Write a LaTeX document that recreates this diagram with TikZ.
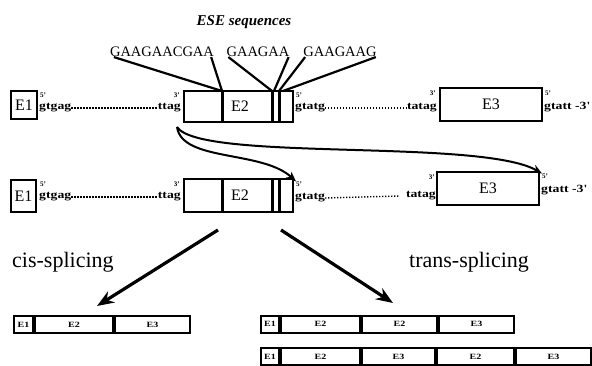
\documentclass[tikz,border=0pt]{standalone}
\usepackage{fontspec}
\setmainfont{Liberation Serif}
\newfontfamily\seqfont[FakeStretch=1.25]{Liberation Serif}
\usetikzlibrary{arrows.meta}
\begin{document}
\begin{tikzpicture}[x=1pt,y=-1pt,
  exon/.style={draw,line width=1.8pt,inner sep=0pt,font=\fontsize{16}{16}\selectfont},
  seq/.style={inner sep=0pt,font=\seqfont\bfseries\fontsize{11}{11}\selectfont},
  prime/.style={inner sep=0pt,font=\bfseries\fontsize{7}{7}\selectfont},
  ese/.style={inner sep=0pt,font=\fontsize{14.5}{14.5}\selectfont},
  eseline/.style={line width=2.2pt},
  sepline/.style={line width=3pt},
  dots/.style={line width=1.4pt,dash pattern=on 1.2pt off 1.8pt},
  curvearrow/.style={line width=2pt,-{Stealth[length=10pt,width=8pt]}},
  bigarrow/.style={line width=3.2pt,-{Stealth[length=17pt,width=13pt]}},
  seg/.style={draw,line width=2pt,inner sep=0pt,minimum height=17pt,font=\seqfont\bfseries\fontsize{8}{8}\selectfont},
  title/.style={inner sep=0pt,font=\fontsize{22}{22}\selectfont}
]
\useasboundingbox (0,0) rectangle (592,366);

% ESE title and sequences
\node[inner sep=0pt,font=\bfseries\itshape\fontsize{15}{15}\selectfont] (ese) at (244,22) {ESE sequences};
\node[ese] (s1) at (162,52) {GAAGAACGAA};
\node[ese] (s2) at (258,52) {GAAGAA};
\node[ese] (s3) at (340,52) {GAAGAAG};

% ---------- Row 1 ----------
\node[exon,minimum width=26pt,minimum height=28pt] (e1a) at (24,105) {E1};
\node[prime,anchor=west] (p1a) at (40,95) {5'};
\node[seq,anchor=west] (g1a) at (39,108) {gtgag};
\node[seq,anchor=east] (t1a) at (181,108) {ttag};
\node[prime,anchor=east] (q1a) at (180,95) {3'};
\draw[dots] (g1a.east) -- (t1a.west);
\node[exon,minimum width=109pt,minimum height=31pt] (e2a) at (238.5,106.5) {};
\node[inner sep=0pt,font=\fontsize{16}{16}\selectfont] (l2a) at (240,106.5) {E2};
\coordinate (a1t) at (222,91);  \coordinate (a1b) at (222,122);
\coordinate (a2t) at (272,91);  \coordinate (a2b) at (272,122);
\coordinate (a3t) at (279,91);  \coordinate (a3b) at (279,122);
\draw[sepline] (a1t) -- (a1b);
\draw[sepline] (a2t) -- (a2b);
\draw[sepline] (a3t) -- (a3b);
\node[prime,anchor=west] (p2a) at (296,95) {5'};
\node[seq,anchor=west] (g2a) at (295,108) {gtatg};
\node[seq,anchor=east] (t2a) at (437,108) {tatag};
\node[prime,anchor=east] (q2a) at (436,93) {3'};
\draw[dots] (g2a.east) -- (t2a.west);
\node[exon,minimum width=102pt,minimum height=33pt] (e3a) at (491,104.5) {E3};
\node[prime,anchor=west] (p3a) at (545,93) {5'};
\node[seq,anchor=west] (g3a) at (544,107) {gtatt -3'};

% ESE connector lines
\draw[eseline] ([xshift=4pt]s1.south west) -- (a1t);
\draw[eseline] ([xshift=-3pt]s1.south east) -- (a1t);
\draw[eseline] ([xshift=2pt]s2.south west) -- (a2t);
\draw[eseline] ([xshift=-1pt]s2.south east) -- ([xshift=2pt]a2t);
\draw[eseline] ([xshift=2pt]s3.south west) -- (a3t);
\draw[eseline] ([xshift=-1pt]s3.south east) -- ([xshift=4pt]a3t);

% ---------- Row 2 ----------
\node[exon,minimum width=25pt,minimum height=32pt] (e1b) at (23.5,196) {E1};
\node[prime,anchor=west] (p1b) at (40,184) {5'};
\node[seq,anchor=west] (g1b) at (39,197) {gtgag};
\node[seq,anchor=east] (t1b) at (181,197) {ttag};
\node[prime,anchor=east] (q1b) at (180,184) {3'};
\draw[dots] (g1b.east) -- (t1b.west);
\node[exon,minimum width=109pt,minimum height=33pt] (e2b) at (238.5,195.5) {};
\node[inner sep=0pt,font=\fontsize{16}{16}\selectfont] (l2b) at (240,195.5) {E2};
\coordinate (b1t) at (222,179);  \coordinate (b1b) at (222,212);
\coordinate (b2t) at (272,179);  \coordinate (b2b) at (272,212);
\coordinate (b3t) at (279,179);  \coordinate (b3b) at (279,212);
\draw[sepline] (b1t) -- (b1b);
\draw[sepline] (b2t) -- (b2b);
\draw[sepline] (b3t) -- (b3b);
\node[prime,anchor=west] (p2b) at (296,184) {5'};
\node[seq,anchor=west] (g2b) at (295,198) {gtatg};
\node[seq,anchor=east] (t2b) at (436,196) {tatag};
\node[prime,anchor=east] (q2b) at (435,177) {3'};
\draw[dots] (g2b.east) -- ([xshift=-6pt]t2b.west);
\node[exon,minimum width=102pt,minimum height=33pt] (e3b) at (488,188.5) {E3};
\node[prime,anchor=west] (p3b) at (542,176) {5'};
\node[seq,anchor=west] (g3b) at (541,190) {gtatt -3'};

% curved arrows
\coordinate (cs) at (177,127);
\draw[curvearrow] (cs) .. controls (182,162) and (262,150) .. (p2b.north west);
\draw[curvearrow] (cs) .. controls (200,162) and (480,138) .. (p3b.north west);

% big arrows
\coordinate (ca) at (218,230);
\coordinate (ta) at (281,230);
\coordinate (cb) at (97,306);
\coordinate (tb) at (393,303);
\draw[bigarrow] (ca) -- (cb);
\draw[bigarrow] (ta) -- (tb);

\node[title,anchor=west] (cis) at (12,262) {cis-splicing};
\node[title,anchor=west] (trans) at (409,262) {trans-splicing};

% ---------- products ----------
\node[seg,minimum width=19pt,anchor=west] (c1) at (13,324.5) {E1};
\node[seg,minimum width=78pt,anchor=west] (c2) at (c1.east) {E2};
\node[seg,minimum width=75pt,anchor=west] (c3) at (c2.east) {E3};

\node[seg,minimum width=18pt,anchor=west] (d1) at (260,324) {E1};
\node[seg,minimum width=79pt,anchor=west] (d2) at (d1.east) {E2};
\node[seg,minimum width=75pt,anchor=west] (d3) at (d2.east) {E2};
\node[seg,minimum width=75pt,anchor=west] (d4) at (d3.east) {E3};

\node[seg,minimum width=18pt,anchor=west] (f1) at (260,356.5) {E1};
\node[seg,minimum width=79pt,anchor=west] (f2) at (f1.east) {E2};
\node[seg,minimum width=73pt,anchor=west] (f3) at (f2.east) {E3};
\node[seg,minimum width=77pt,anchor=west] (f4) at (f3.east) {E2};
\node[seg,minimum width=75pt,anchor=west] (f5) at (f4.east) {E3};
\end{tikzpicture}
\end{document}
